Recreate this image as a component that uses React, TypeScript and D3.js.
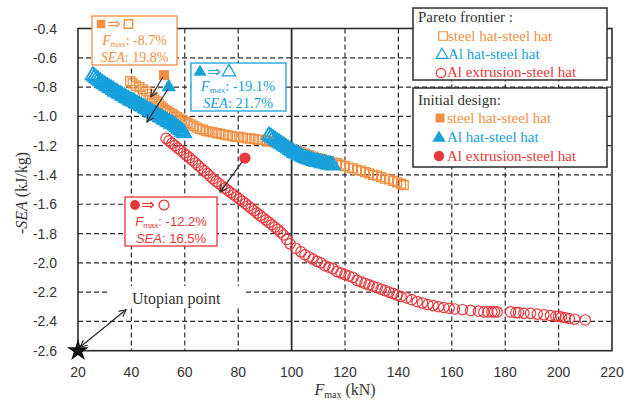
import React from "react";
import * as d3 from "d3";

const W = 638;
const H = 401;

const xTicks = [20, 40, 60, 80, 100, 120, 140, 160, 180, 200, 220];
const yTicks = [-0.4, -0.6, -0.8, -1.0, -1.2, -1.4, -1.6, -1.8, -2.0, -2.2, -2.4, -2.6];

// Pareto frontier: steel hat-steel hat
const steelPareto: [number, number][] = [
  [39.5, -0.76], [40.5, -0.775], [41.7, -0.79], [43, -0.8], [44.3, -0.815], [45.6, -0.83],
  [46.8, -0.85], [47.8, -0.87], [48.6, -0.885], [49.4, -0.9], [50.2, -0.915], [51, -0.93],
  [51.8, -0.945], [52.6, -0.955], [53.4, -0.965], [54.3, -0.975], [55.2, -0.985], [56.1, -0.995],
  [57, -1.005], [58, -1.015], [59, -1.025], [60, -1.035], [61, -1.045], [62.1, -1.055],
  [63.2, -1.065], [64.4, -1.075], [65.6, -1.085], [66.8, -1.09], [68, -1.1], [69.3, -1.105],
  [70.6, -1.11], [72, -1.115], [73.4, -1.12], [74.8, -1.125], [76.2, -1.13], [77.6, -1.135],
  [79, -1.14], [80.4, -1.14], [81.8, -1.145], [83.2, -1.15], [84.6, -1.15], [86, -1.155],
  [87.4, -1.16], [88.8, -1.16], [90.2, -1.165], [91.6, -1.17], [93, -1.175], [94.5, -1.185],
  [96, -1.195], [97.5, -1.205], [99, -1.215], [100.5, -1.225], [102, -1.235], [103.5, -1.245],
  [105, -1.255], [106.5, -1.265], [108, -1.275], [109.5, -1.285], [111, -1.29], [112.5, -1.3],
  [114, -1.305], [115.5, -1.315], [117, -1.32], [118.5, -1.33], [120, -1.34], [121.5, -1.35],
  [123, -1.355], [124.5, -1.365], [126, -1.37], [127.5, -1.38], [129, -1.39], [130.5, -1.4],
  [132, -1.405], [133.5, -1.415], [135, -1.425], [136.5, -1.43], [138, -1.44], [139.5, -1.45],
  [141, -1.46], [142, -1.47],
];

// Pareto frontier: Al hat-steel hat
const alHatPareto: [number, number][] = [
  [25.5, -0.72], [26.2, -0.73], [26.9, -0.74], [27.6, -0.75], [28.3, -0.76], [29, -0.77],
  [29.7, -0.78], [30.4, -0.79], [31.1, -0.795], [31.8, -0.805], [32.5, -0.81], [33.2, -0.82],
  [33.9, -0.83], [34.6, -0.835], [35.3, -0.845], [36, -0.85], [36.7, -0.86], [37.4, -0.865],
  [38.1, -0.875], [38.8, -0.88], [39.5, -0.89], [40.2, -0.895], [40.9, -0.9], [41.6, -0.91],
  [42.3, -0.915], [43, -0.92], [43.7, -0.93], [44.4, -0.935], [45.1, -0.945], [45.8, -0.95],
  [46.5, -0.96], [47.2, -0.965], [47.9, -0.975], [48.6, -0.98], [49.3, -0.99], [50, -0.995],
  [50.7, -1.005], [51.4, -1.01], [52.1, -1.02], [52.8, -1.025], [53.5, -1.035], [54.2, -1.04],
  [54.9, -1.05], [55.6, -1.055], [56.3, -1.065], [57, -1.075], [57.7, -1.085], [58.4, -1.095],
  [59.1, -1.105], [59.8, -1.115],
  [91.5, -1.13], [92.3, -1.14], [93.1, -1.15], [93.9, -1.16], [94.7, -1.17], [95.5, -1.18],
  [96.3, -1.19], [97.1, -1.2], [97.9, -1.21], [98.7, -1.22], [99.5, -1.23], [100.3, -1.24],
  [101.1, -1.25], [101.9, -1.255], [102.7, -1.265], [103.5, -1.27], [104.3, -1.28], [105.1, -1.285],
  [105.9, -1.29], [106.7, -1.295], [107.5, -1.3], [108.3, -1.305], [109.1, -1.31], [109.9, -1.31],
  [110.7, -1.315], [111.5, -1.32], [112.3, -1.32], [113.1, -1.325], [113.9, -1.33], [114.7, -1.33],
  [115.5, -1.335],
];

// Pareto frontier: Al extrusion-steel hat
const alExtPareto: [number, number][] = [
  [53, -1.15], [54.1, -1.167], [55.2, -1.184], [56.3, -1.2], [57.4, -1.217], [58.5, -1.233],
  [59.6, -1.25], [60.7, -1.267], [61.8, -1.283], [62.9, -1.3], [64, -1.318], [65.1, -1.336],
  [66.2, -1.354], [67.3, -1.372], [68.4, -1.39], [69.5, -1.408], [70.6, -1.426], [71.7, -1.444],
  [72.8, -1.46], [73.9, -1.475], [75, -1.49], [76.1, -1.505], [77.2, -1.52], [78.3, -1.535],
  [79.4, -1.55], [80.5, -1.565], [81.6, -1.58], [82.7, -1.596], [83.8, -1.612], [84.9, -1.628],
  [86, -1.644], [87.1, -1.66], [88.2, -1.676], [89.3, -1.692], [90.4, -1.708], [91.5, -1.724],
  [92.6, -1.74], [93.7, -1.756], [94.8, -1.772], [95.9, -1.79], [97, -1.81], [98.2, -1.84],
  [99.4, -1.87], [101.5, -1.9], [103.5, -1.925], [105, -1.945], [106.5, -1.96], [108, -1.975],
  [109.5, -1.99], [111, -2.0], [112.5, -2.02], [114, -2.03], [115.5, -2.04], [117, -2.06],
  [118.5, -2.07], [120, -2.08], [121.5, -2.09], [123, -2.1], [124.5, -2.12], [126, -2.13],
  [127.5, -2.14], [129, -2.15], [130.5, -2.16], [132, -2.17], [133.5, -2.18], [135, -2.19],
  [136.5, -2.2], [138, -2.21], [139.5, -2.22], [141, -2.23], [143, -2.24], [145, -2.252],
  [147, -2.265], [149, -2.275], [151, -2.285], [153, -2.292], [155, -2.3], [157, -2.305],
  [159, -2.31], [161, -2.315], [164, -2.32], [167, -2.325], [170, -2.33], [172, -2.335],
  [173.5, -2.335], [175, -2.335], [176, -2.335], [177, -2.335], [182, -2.335], [184, -2.34],
  [185, -2.34], [187, -2.345], [189.5, -2.345], [192, -2.35], [194.5, -2.355], [197, -2.36],
  [199, -2.365], [200, -2.365], [201, -2.37], [202.5, -2.375], [204, -2.38], [206, -2.385],
  [210, -2.39],
];

// Initial designs
const initSteel: [number, number] = [52.2, -0.718];
const initAlHat: [number, number] = [54, -0.8];
const initAlExt: [number, number] = [82.5, -1.285];
const utopian: [number, number] = [20, -2.6];

// annotation arrows [x1, y1, x2, y2] in data units
const arrows: [number, number, number, number][] = [
  [51.8, -0.731, 47.3, -0.868],
  [53.7, -0.813, 45.8, -1.039],
  [81.4, -1.312, 73.2, -1.517],
];
const utopianArrow: [number, number, number, number] = [20.8, -2.575, 38, -2.32];

const ORANGE = "#F28F42";
const BLUE = "#17A0DB";
const RED = "#E8363A";
const DARK = "#2b2b2b";

const x = d3.scaleLinear().domain([20, 220]).range([78, 612]);
const y = d3.scaleLinear().domain([-0.4, -2.6]).range([28.5, 350.7]);

const sq = (size: number) => d3.symbol(d3.symbolSquare, size)()!;
const tri = (size: number) => d3.symbol(d3.symbolTriangle, size)()!;
const circ = (size: number) => d3.symbol(d3.symbolCircle, size)()!;
const star = d3.symbol(d3.symbolStar, 150)()!;

const serif = "'Liberation Serif', 'Times New Roman', serif";
const sans = "'Liberation Sans', Arial, sans-serif";

const FText = ({ cx, by, text, color, font, size }: any) => (
  <text x={cx} y={by} textAnchor="middle" fill={color} fontFamily={font} fontSize={size}>
    <tspan fontStyle="italic">F</tspan>
    <tspan fontSize={size * 0.62} dy={2}>max</tspan>
    <tspan dy={-2}>{text}</tspan>
  </text>
);

const App = () => {
  return (
    <svg width={W} height={H} style={{ position: "absolute", left: 0, top: 0, background: "#fff" }}>
      <defs>
        <marker id="ah" viewBox="-8 -5 10 10" refX={0} refY={0} markerWidth={10} markerHeight={10}
          markerUnits="userSpaceOnUse" orient="auto-start-reverse">
          <path d="M-7,-3.5 L0,0 L-7,3.5" fill="none" stroke={DARK} strokeWidth={1.1} />
        </marker>
      </defs>
      <rect width={W} height={H} fill="#fff" />

      {/* grid */}
      {xTicks.slice(1, -1).map((t) => (
        <line key={"gx" + t} x1={x(t)} x2={x(t)} y1={y(-0.4)} y2={y(-2.6)}
          stroke={DARK} strokeWidth={t === 100 ? 1.8 : 1.2} strokeDasharray={t === 100 ? undefined : "5,3"} />
      ))}
      {yTicks.slice(1, -1).map((t) => (
        <line key={"gy" + t} x1={x(20)} x2={x(220)} y1={y(t)} y2={y(t)}
          stroke={DARK} strokeWidth={1.2} strokeDasharray="5,3" />
      ))}
      {/* frame */}
      <rect x={x(20)} y={y(-0.4)} width={x(220) - x(20)} height={y(-2.6) - y(-0.4)}
        fill="none" stroke={DARK} strokeWidth={1.6} />

      {/* tick labels */}
      {yTicks.map((t) => (
        <text key={"yl" + t} x={57} y={y(t) + 5} textAnchor="end" fontFamily={sans} fontSize={14} fill="#333">
          {t.toFixed(1)}
        </text>
      ))}
      {xTicks.map((t) => (
        <text key={"xl" + t} x={x(t)} y={377} textAnchor="middle" fontFamily={sans} fontSize={14} fill="#333">
          {t}
        </text>
      ))}

      {/* axis titles */}
      <text transform={`translate(27,193) rotate(-90)`} textAnchor="middle" fontFamily={serif} fontSize={16} fill="#333">
        -<tspan fontStyle="italic">SEA</tspan> (kJ/kg)
      </text>
      <text x={345} y={395} textAnchor="middle" fontFamily={serif} fontSize={16} fill="#333">
        <tspan fontStyle="italic">F</tspan>
        <tspan fontSize={10} dy={3}>max</tspan>
        <tspan dy={-3}> (kN)</tspan>
      </text>

      {/* Utopian label */}
      <rect x={110} y={286} width={136} height={22} fill="#fff" />
      <text x={132} y={304} fontFamily={serif} fontSize={16} fill="#333">Utopian point</text>

      {/* Pareto series */}
      {steelPareto.map((d, i) => (
        <path key={"s" + i} d={sq(80)} transform={`translate(${x(d[0])},${y(d[1])})`}
          fill="none" stroke={ORANGE} strokeWidth={1.3} />
      ))}
      {alHatPareto.map((d, i) => (
        <path key={"a" + i} d={tri(85)} transform={`translate(${x(d[0])},${y(d[1])})`}
          fill="none" stroke={BLUE} strokeWidth={1.8} />
      ))}
      {alExtPareto.map((d, i) => (
        <path key={"e" + i} d={circ(85)} transform={`translate(${x(d[0])},${y(d[1])})`}
          fill="none" stroke={RED} strokeWidth={1.2} />
      ))}

      {/* initial designs */}
      <path d={sq(100)} transform={`translate(${x(initSteel[0])},${y(initSteel[1])})`} fill={ORANGE} />
      <path d={tri(90)} transform={`translate(${x(initAlHat[0])},${y(initAlHat[1])})`} fill={BLUE} />
      <path d={circ(100)} transform={`translate(${x(initAlExt[0])},${y(initAlExt[1])})`} fill={RED} />
      <path d={star} transform={`translate(${x(utopian[0])},${y(utopian[1])})`} fill="#111" />

      {/* arrows */}
      {arrows.map((a, i) => (
        <line key={"ar" + i} x1={x(a[0])} y1={y(a[1])} x2={x(a[2])} y2={y(a[3])}
          stroke={DARK} strokeWidth={1.2} markerEnd="url(#ah)" />
      ))}
      <line x1={x(utopianArrow[0])} y1={y(utopianArrow[1])} x2={x(utopianArrow[2])} y2={y(utopianArrow[3])}
        stroke={DARK} strokeWidth={1.2} markerStart="url(#ah)" markerEnd="url(#ah)" />

      {/* orange annotation */}
      <rect x={92} y={16} width={85} height={49} fill="#fff" stroke={ORANGE} strokeWidth={1.3} />
      <path d={sq(72)} transform="translate(101,24)" fill={ORANGE} />
      <text x={114} y={29} textAnchor="middle" fontFamily="'DejaVu Sans'" fontSize={16} fill={ORANGE}>⇒</text>
      <path d={sq(72)} transform="translate(128.5,24)" fill="none" stroke={ORANGE} strokeWidth={1.3} />
      <FText cx={134.5} by={45} text=": -8.7%" color={ORANGE} font={serif} size={14} />
      <text x={134.5} y={62} textAnchor="middle" fontFamily={serif} fontSize={14} fill={ORANGE}>
        <tspan fontStyle="italic">SEA</tspan>: 19.8%
      </text>

      {/* blue annotation */}
      <rect x={191} y={63} width={95} height={48} fill="#fff" stroke={BLUE} strokeWidth={1.3} />
      <path d={tri(75)} transform="translate(200,72)" fill={BLUE} />
      <text x={214} y={77} textAnchor="middle" fontFamily="'DejaVu Sans'" fontSize={16} fill={BLUE}>⇒</text>
      <path d={tri(75)} transform="translate(229,72)" fill="none" stroke={BLUE} strokeWidth={1.3} />
      <FText cx={238} by={91} text=": -19.1%" color={BLUE} font={serif} size={14.5} />
      <text x={238} y={108} textAnchor="middle" fontFamily={serif} fontSize={14.5} fill={BLUE}>
        <tspan fontStyle="italic">SEA</tspan>: 21.7%
      </text>

      {/* red annotation */}
      <rect x={125} y={197} width={92} height={49} fill="#fff" stroke={RED} strokeWidth={1.3} />
      <path d={circ(75)} transform="translate(135,205)" fill={RED} />
      <text x={148} y={210} textAnchor="middle" fontFamily="'DejaVu Sans'" fontSize={16} fill={RED}>⇒</text>
      <path d={circ(75)} transform="translate(164,205)" fill="none" stroke={RED} strokeWidth={1.3} />
      <FText cx={171} by={226} text=": -12.2%" color={RED} font={sans} size={13} />
      <text x={171} y={243} textAnchor="middle" fontFamily={sans} fontSize={13} fill={RED}>
        <tspan fontStyle="italic">SEA</tspan>: 16.5%
      </text>

      {/* legend: Pareto frontier */}
      <rect x={413} y={8} width={194} height={72} fill="#fff" stroke={DARK} strokeWidth={1.5} />
      <text x={418} y={22} fontFamily={serif} fontSize={15} fill="#333">Pareto frontier :</text>
      <path d={sq(72)} transform="translate(443,36)" fill="none" stroke={ORANGE} strokeWidth={1.2} />
      <text x={448} y={41} fontFamily={serif} fontSize={15} fill={ORANGE}>steel hat-steel hat</text>
      <path d={tri(60)} transform="translate(442,55)" fill="none" stroke={BLUE} strokeWidth={1.2} />
      <text x={448} y={59} fontFamily={serif} fontSize={15} fill={BLUE}>Al hat-steel hat</text>
      <path d={circ(70)} transform="translate(441,73)" fill="none" stroke={RED} strokeWidth={1.2} />
      <text x={447} y={77} fontFamily={serif} fontSize={15} fill={RED}>Al extrusion-steel hat</text>

      {/* legend: Initial design */}
      <rect x={413} y={88} width={194} height={79} fill="#fff" stroke={DARK} strokeWidth={1.5} />
      <text x={418} y={105} fontFamily={serif} fontSize={15} fill="#333">Initial design:</text>
      <path d={sq(80)} transform="translate(440,118)" fill={ORANGE} />
      <text x={447} y={123} fontFamily={serif} fontSize={15} fill={ORANGE}>steel hat-steel hat</text>
      <path d={tri(75)} transform="translate(439,138)" fill={BLUE} />
      <text x={447} y={142} fontFamily={serif} fontSize={15} fill={BLUE}>Al hat-steel hat</text>
      <path d={circ(85)} transform="translate(439,156)" fill={RED} />
      <text x={447} y={161} fontFamily={serif} fontSize={15} fill={RED}>Al extrusion-steel hat</text>
    </svg>
  );
};

export default App;
